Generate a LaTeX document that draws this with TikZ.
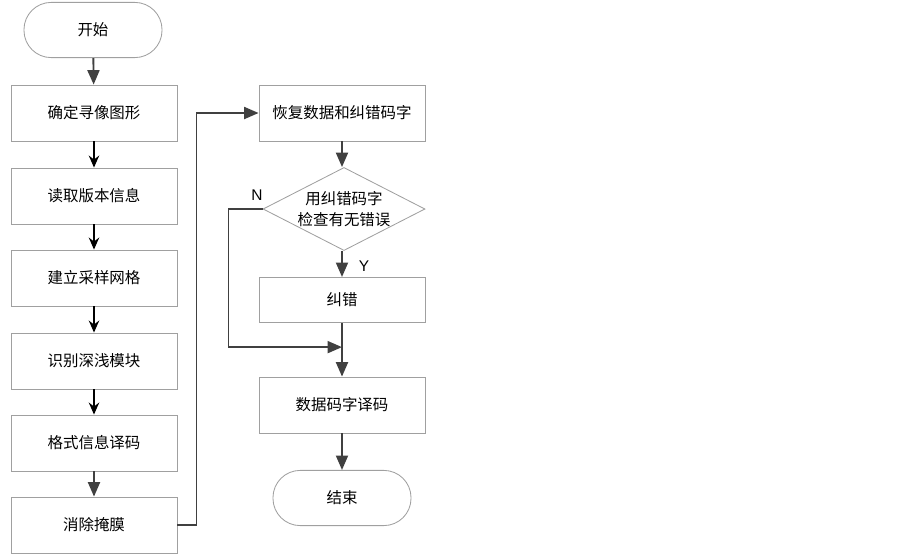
\documentclass[tikz,border=0pt]{standalone}
\usepackage{fontspec}
\usepackage{tikz}
\usetikzlibrary{shapes,arrows.meta,positioning,calc}
\newfontfamily\cjk{Noto Sans CJK SC}
\newfontfamily\latinsf{Liberation Sans}
\definecolor{linegray}{RGB}{64,64,64}
\definecolor{boxgray}{RGB}{160,160,160}
\tikzset{
  stepbox/.style={rectangle,draw=boxgray,line width=0.6pt,minimum width=4.15cm,minimum height=1.4cm,font=\cjk\fontsize{11}{13}\selectfont},
  termbox/.style={rectangle,draw=boxgray,line width=0.6pt,rounded corners=0.68cm,minimum width=3.45cm,minimum height=1.38cm,font=\cjk\fontsize{11}{13}\selectfont},
  testbox/.style={diamond,draw=boxgray,line width=0.6pt,aspect=1.95,inner sep=0pt,minimum width=4cm,minimum height=2.05cm,align=center,font=\cjk\fontsize{11}{15}\selectfont},
  arr/.style={draw=linegray,line width=1.3pt,-{Triangle[width=0.3cm,length=0.36cm]}},
  arrk/.style={draw=black,line width=1.1pt,-{Stealth[width=0.26cm,length=0.3cm]}},
  lab/.style={font=\latinsf\fontsize{11}{13}\selectfont}
}
\begin{document}
\begin{tikzpicture}[x=0.025cm,y=-0.025cm]
  \useasboundingbox (0,0) rectangle (903,555);
  % left column
  \node[termbox] (start) at (93,30) {开始};
  \node[stepbox] (find) at (94,113) {确定寻像图形};
  \node[stepbox] (ver) at (94,196) {读取版本信息};
  \node[stepbox] (grid) at (94,278) {建立采样网格};
  \node[stepbox] (mod) at (94,361) {识别深浅模块};
  \node[stepbox] (fmt) at (94,443) {格式信息译码};
  \node[stepbox] (mask) at (94,525) {消除掩膜};
  % right column
  \node[stepbox] (rec) at (342,113) {恢复数据和纠错码字};
  \node[testbox] (chk) at (344,209) {用纠错码字\\检查有无错误};
  \node[stepbox,minimum height=1.13cm] (fix) at (342,300) {纠错};
  \node[stepbox] (dec) at (342,405) {数据码字译码};
  \node[termbox] (stop) at (342,498) {结束};
  \draw[arr] (start) -- (find);
  \draw[arrk] (find) -- (ver);
  \draw[arrk] (ver) -- (grid);
  \draw[arrk] (grid) -- (mod);
  \draw[arrk] (mod) -- (fmt);
  \draw[arr] (fmt) -- (mask);
  \draw[arr] (mask.east) -- ++(19,0) |- (rec.west);
  \draw[arr] (rec.south) -- (rec.south |- chk.north);
  \draw[arr] (chk.south -| fix.north) -- (fix.north);
  \coordinate (join) at ($(fix.south)!0.45!(dec.north)$);
  \draw[arr] (chk.west) -- ++(-34,0) |- (join);
  \draw[arr] (fix.south) -- (dec.north);
  \draw[arr] (dec) -- (stop);
  \node[lab] (nlab) at (257,195) {N};
  \node[lab] (ylab) at (364,266) {Y};
\end{tikzpicture}
\end{document}
